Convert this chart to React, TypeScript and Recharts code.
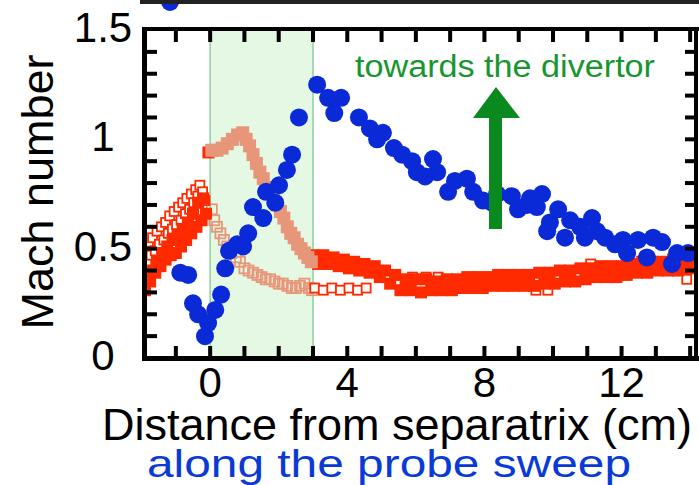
import { ScatterChart, Scatter, XAxis, YAxis, ReferenceArea } from "recharts";

// probe sweep, blue circles
const blueDist = [-0.87, -0.64, -0.5, -0.35, -0.15, -0.06, 0.15, 0.32, 0.44, 0.55, 0.79, 0.96, 1.11, 1.25, 1.55, 1.63, 1.9, 2.01, 2.24, 2.39, 2.59, 3.12, 3.44, 3.62, 3.82, 4.34, 4.66, 4.87, 5.04, 5.36, 5.6, 5.89, 6.03, 6.27, 6.5, 6.62, 6.94, 7.14, 7.49, 7.67, 7.96, 8.22, 8.37, 8.8, 8.98, 9.24, 9.33, 9.53, 9.68, 9.83, 9.91, 10.15, 10.35, 10.5, 10.79, 10.93, 11.14, 11.28, 11.52, 11.81, 12.04, 12.16, 12.48, 12.74, 12.92, 13.18, 13.47, 13.62, 13.94];
const blueMach = [0.39, 0.38, 0.25, 0.2, 0.1, 0.16, 0.22, 0.29, 0.41, 0.49, 0.52, 0.51, 0.57, 0.69, 0.64, 0.76, 0.71, 0.79, 0.86, 0.93, 1.1, 1.25, 1.19, 1.12, 1.19, 1.1, 1.05, 1.0, 1.03, 0.96, 0.93, 0.9, 0.85, 0.83, 0.91, 0.85, 0.76, 0.81, 0.82, 0.76, 0.72, 0.71, 0.75, 0.74, 0.68, 0.7, 0.73, 0.69, 0.75, 0.58, 0.62, 0.68, 0.55, 0.63, 0.6, 0.55, 0.64, 0.58, 0.55, 0.52, 0.54, 0.48, 0.54, 0.46, 0.55, 0.53, 0.43, 0.48, 0.48];

// red filled squares
const redSolidDist = [-1.9, -1.85, -1.75, -1.7, -1.6, -1.55, -1.45, -1.4, -1.3, -1.25, -1.15, -1.1, -1.0, -0.95, -0.85, -0.8, -0.7, -0.65, -0.55, -0.5, -0.4, -0.35, -0.25, -0.2, -0.12, -0.05,
  3.0, 3.15, 3.3, 3.45, 3.6, 3.75, 3.9, 4.05, 4.2, 4.35, 4.5, 4.65, 4.8, 4.95, 5.1, 5.25, 5.4, 5.55, 5.7, 5.85, 6.0, 6.15, 6.3, 6.45, 6.6, 6.75, 6.9, 7.05, 7.2, 7.35, 7.5, 7.65, 7.8, 7.95, 8.1, 8.25, 8.4, 8.55, 8.7, 8.85, 9.0, 9.15, 9.3, 9.45, 9.6, 9.75, 9.9, 10.05, 10.2, 10.35, 10.5, 10.65, 10.8, 10.95, 11.1, 11.25, 11.4, 11.55, 11.7, 11.85, 12.0, 12.15, 12.3, 12.45, 12.6, 12.75, 12.9, 13.05, 13.2, 13.35, 13.5, 13.65, 13.8, 13.95, 14.1];
const redSolidMach = [0.31, 0.36, 0.35, 0.4, 0.39, 0.44, 0.42, 0.48, 0.45, 0.51, 0.47, 0.54, 0.48, 0.56, 0.51, 0.59, 0.54, 0.62, 0.57, 0.66, 0.6, 0.71, 0.63, 0.73, 0.66, 0.94,
  0.47, 0.43, 0.47, 0.43, 0.46, 0.42, 0.45, 0.41, 0.44, 0.4, 0.43, 0.39, 0.42, 0.37, 0.4, 0.34, 0.38, 0.31, 0.36, 0.31, 0.36, 0.3, 0.36, 0.31, 0.35, 0.31, 0.36, 0.31, 0.36, 0.32, 0.37, 0.32, 0.37, 0.32, 0.37, 0.33, 0.38, 0.33, 0.38, 0.33, 0.38, 0.33, 0.38, 0.33, 0.39, 0.34, 0.39, 0.34, 0.4, 0.35, 0.4, 0.35, 0.41, 0.36, 0.41, 0.37, 0.42, 0.37, 0.42, 0.37, 0.42, 0.38, 0.43, 0.39, 0.44, 0.39, 0.44, 0.4, 0.44, 0.4, 0.45, 0.4, 0.45, 0.41, 0.45];

// red open squares
const redOpenDist = [-1.9, -1.85, -1.8, -1.72, -1.68, -1.6, -1.55, -1.48, -1.42, -1.35, -1.3, -1.22, -1.18, -1.1, -1.05, -0.98, -0.92, -0.85, -0.8, -0.72, -0.68, -0.6, -0.55, -0.48, -0.42, -0.36, -0.3, -0.22, -0.15,
  3.05, 3.3, 3.55, 3.8, 4.05, 4.3, 4.55, 5.9, 6.3, 6.65, 9.5, 9.85, 11.1, 13.9];
const redOpenMach = [0.5, 0.44, 0.53, 0.47, 0.55, 0.49, 0.58, 0.52, 0.6, 0.54, 0.62, 0.57, 0.65, 0.59, 0.67, 0.61, 0.69, 0.63, 0.71, 0.66, 0.73, 0.68, 0.75, 0.71, 0.77, 0.74, 0.79, 0.76, 0.72,
  0.32, 0.31, 0.32, 0.31, 0.32, 0.31, 0.32, 0.37, 0.37, 0.37, 0.31, 0.31, 0.43, 0.36];

// salmon squares inside the shaded band
const salmonSolidDist = [0.05, 0.2, 0.35, 0.5, 0.65, 0.8, 0.95, 1.05, 1.15, 1.25, 1.35, 1.45, 1.55, 1.65, 1.75, 1.85, 1.95, 2.05, 2.15, 2.25, 2.35, 2.45, 2.55, 2.65, 2.75, 2.85, 2.95];
const salmonSolidMach = [0.95, 0.95, 0.96, 0.98, 1.0, 1.02, 1.03, 1.0, 0.97, 0.93, 0.89, 0.85, 0.82, 0.78, 0.76, 0.74, 0.7, 0.67, 0.64, 0.6, 0.57, 0.55, 0.52, 0.5, 0.48, 0.46, 0.44];
const salmonOpenDist = [0.05, 0.12, 0.2, 0.3, 0.4, 0.5, 0.62, 0.75, 0.87, 1.0, 1.12, 1.25, 1.38, 1.5, 1.62, 1.75, 1.88, 2.0, 2.12, 2.25, 2.38, 2.5, 2.62, 2.75, 2.88, 2.97];
const salmonOpenMach = [0.68, 0.63, 0.6, 0.57, 0.54, 0.51, 0.48, 0.46, 0.44, 0.41, 0.4, 0.39, 0.38, 0.37, 0.36, 0.36, 0.35, 0.34, 0.34, 0.33, 0.32, 0.32, 0.33, 0.34, 0.32, 0.31];

// bits of the panel above that peek into the crop
const upperBlueDist = [-1.17];
const upperBlueVal = [0.0];
const upperRedDist = [13.8];
const upperRedVal = [0.12];

const band = [0, 3];
const xDomain = [-1.9, 14.2];
const yDomain = [0, 1.5];
const xTicks = [-1, 0, 1, 2, 3, 4, 5, 6, 7, 8, 9, 10, 11, 12, 13, 14];
const xLabelTicks = [0, 4, 8, 12];
const yTicks = [0.1, 0.2, 0.3, 0.4, 0.5, 0.6, 0.7, 0.8, 0.9, 1, 1.1, 1.2, 1.3, 1.4];
const yLabelTicks = [0, 0.5, 1, 1.5];

const FONT = "'Liberation Sans', Arial, Helvetica, sans-serif";
const BLUE = "#0a2ad8";
const RED = "#ff2a00";
const SALMON = "#e8967a";

const pts = (xs: number[], ys: number[]) => xs.map((x, i) => ({ x, y: ys[i] }));

const circle = (r: number, color: string) => (p: any) =>
  <circle cx={p.cx} cy={p.cy} r={r} fill={color} />;

const square = (s: number, color: string, open: boolean, inner = "none") => (p: any) =>
  open ? (
    <rect x={p.cx - s / 2} y={p.cy - s / 2} width={s} height={s} fill={inner} stroke={color} strokeWidth={1.8} />
  ) : (
    <rect x={p.cx - s / 2} y={p.cy - s / 2} width={s} height={s} fill={color} />
  );

// inward tick marks drawn as small filled bars at the axis positions
const tickMark = (dir: "up" | "down" | "right" | "left") => (p: any) => {
  const L = 12;
  const W = 4;
  if (dir === "up") return <rect x={p.cx - W / 2} y={p.cy - L} width={W} height={L} fill="#000" />;
  if (dir === "down") return <rect x={p.cx - W / 2} y={p.cy} width={W} height={L} fill="#000" />;
  if (dir === "right") return <rect x={p.cx} y={p.cy - W / 2} width={L} height={W} fill="#000" />;
  return <rect x={p.cx - L} y={p.cy - W / 2} width={L} height={W} fill="#000" />;
};

const BottomLabel = (p: any) => (
  <text x={p.x} y={p.y + 39} textAnchor="middle" fontSize={42} fontFamily={FONT} fill="#000">
    {p.payload.value}
  </text>
);

const LeftLabel = (p: any) => (
  <text x={p.x - 42} y={p.y + 12} textAnchor="middle" fontSize={42} fontFamily={FONT} fill="#000">
    {p.payload.value}
  </text>
);

export default function App() {
  const bottomTicks = xTicks.map((t) => ({ x: t, y: yDomain[0] }));
  const topTicks = xTicks.map((t) => ({ x: t, y: yDomain[1] }));
  const leftTicks = yTicks.map((t) => ({ x: xDomain[0], y: t }));
  const rightTicks = yTicks.map((t) => ({ x: xDomain[1], y: t }));

  return (
    <div style={{ position: "absolute", left: 0, top: 0, width: 699, height: 485, overflow: "hidden", background: "#fff" }}>
      {/* strip of the panel above */}
      <div style={{ position: "absolute", left: 0, top: -38 }}>
        <ScatterChart width={699} height={52} margin={{ top: 0, right: 2, bottom: 12, left: 145 }}>
          <XAxis type="number" dataKey="x" domain={xDomain} hide />
          <YAxis type="number" dataKey="y" domain={[0, 1]} hide />
          <ReferenceArea x1={band[0]} x2={band[1]} fill="#c9f2c9" fillOpacity={0.5} stroke="none" />
          <Scatter data={pts(upperRedDist, upperRedVal)} shape={square(11, RED, false)} isAnimationActive={false} />
          <Scatter data={pts(upperBlueDist, upperBlueVal)} shape={circle(9, BLUE)} isAnimationActive={false} />
        </ScatterChart>
      </div>

      <div style={{ position: "absolute", left: 0, top: 0 }}>
        <ScatterChart width={699} height={485} margin={{ top: 30, right: 2, bottom: 0, left: 0 }}>
          <XAxis type="number" dataKey="x" domain={xDomain} allowDataOverflow ticks={xLabelTicks} interval={0}
            tick={<BottomLabel />} tickLine={false} tickSize={0} tickMargin={0} height={127} axisLine={false} />
          <YAxis type="number" dataKey="y" domain={yDomain} allowDataOverflow ticks={yLabelTicks} interval={0}
            tick={<LeftLabel />} tickLine={false} tickSize={0} tickMargin={0} width={145} axisLine={false} />

          <ReferenceArea x1={band[0]} x2={band[1]} fill="#c9f2c9" fillOpacity={0.5}
            stroke="#8ccfa0" strokeWidth={1.5} ifOverflow="visible" />

          <Scatter data={pts(salmonOpenDist, salmonOpenMach)} shape={square(10, SALMON, true)} isAnimationActive={false} />
          <Scatter data={pts(redOpenDist, redOpenMach)} shape={square(9, RED, true, "#fff")} isAnimationActive={false} />
          <Scatter data={pts(redSolidDist, redSolidMach)} shape={square(12, RED, false)} isAnimationActive={false} />
          <Scatter data={pts(salmonSolidDist, salmonSolidMach)} shape={square(13, SALMON, false)} isAnimationActive={false} />
          <Scatter data={pts(blueDist, blueMach)} shape={circle(9, BLUE)} isAnimationActive={false} />

          {/* inward ticks on all four sides */}
          <Scatter data={bottomTicks} shape={tickMark("up")} isAnimationActive={false} />
          <Scatter data={topTicks} shape={tickMark("down")} isAnimationActive={false} />
          <Scatter data={leftTicks} shape={tickMark("right")} isAnimationActive={false} />
          <Scatter data={rightTicks} shape={tickMark("left")} isAnimationActive={false} />
        </ScatterChart>
      </div>

      {/* frame, titles and annotation */}
      <svg width={699} height={485} style={{ position: "absolute", left: 0, top: 0, pointerEvents: "none" }}>
        <rect x={140} y={0} width={559} height={4} fill="#222" />
        <rect x={142} y={27} width={5} height={334} fill="#000" />
        <rect x={142} y={356} width={557} height={5} fill="#000" />
        <rect x={142} y={27} width={557} height={4} fill="#000" />
        <rect x={694} y={27} width={4} height={334} fill="#000" />

        <text transform="translate(53,192) rotate(-90)" textAnchor="middle" fontSize={45} fontFamily={FONT} fill="#000">
          Mach number
        </text>
        <text x={102} y={440} fontSize={45} fontFamily={FONT} fill="#000" textLength={590} lengthAdjust="spacingAndGlyphs">
          Distance from separatrix (cm)
        </text>
        <text x={147} y={477} fontSize={39} fontFamily={FONT} fill="#0a3ad6" textLength={484} lengthAdjust="spacingAndGlyphs">
          along the probe sweep
        </text>
        <text x={355} y={77} fontSize={31} fontFamily={FONT} fill="#17962f" textLength={300} lengthAdjust="spacingAndGlyphs">
          towards the divertor
        </text>
        <polygon points="496,87 520,118 473,118" fill="#0a8a1e" />
        <rect x={489} y={117} width={13} height={112} fill="#0a8a1e" />
      </svg>
    </div>
  );
}
